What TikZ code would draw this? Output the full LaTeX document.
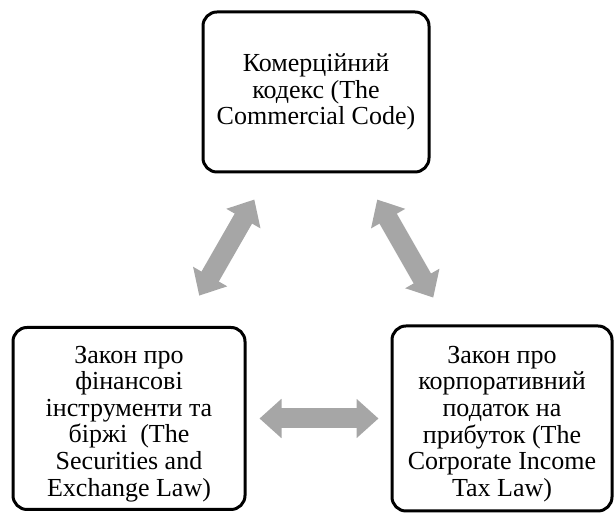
\documentclass[tikz,border=0pt]{standalone}
\usepackage{fontspec}
\setmainfont{Liberation Serif}
\usetikzlibrary{arrows.meta}

\newcommand{\topgap}{\rule{0pt}{28pt}}

\begin{document}
\begin{tikzpicture}
    [node distance =1cm,
    lawbox/.style={draw=black, line width=3pt, rounded corners=14pt, align=center,
        inner sep=4pt, font=\fontsize{26}{26.6}\selectfont},
    link/.style={draw=linkgray, line width=20pt,
        {Triangle[length=22pt 0 0, width=38pt 0 0]}-{Triangle[length=22pt 0 0, width=38pt 0 0]}}]
        \definecolor{linkgray}{HTML}{A6A6A6}
        \useasboundingbox (0,0) rectangle (614pt,513pt);
        %% Codes
        \node[lawbox, minimum width=226pt, minimum height=160pt] (comm) at (316pt,421pt)
            {Комерційний\\кодекс (The\\Commercial Code)};
        \coordinate[below of = comm, node distance=326.5pt] (mid);
        \node[lawbox, left of = mid, node distance=187pt, minimum width=232pt, minimum height=182pt] (secur)
            {\topgap Закон про\\фінансові\\інструменти та\\біржі\ \ (The\\Securities and\\Exchange Law)};
        \node[lawbox, right of = mid, node distance=186pt, minimum width=220pt, minimum height=185pt] (tax)
            {\topgap Закон про\\корпоративний\\податок на\\прибуток (The\\Corporate Income\\Tax Law)};
        
        \draw[link, shorten <=30pt, shorten >=35pt] (comm) to (secur);
        \draw[link, shorten <=30pt, shorten >=31pt] (comm) to (tax);
        \draw[link, shorten <=13pt, shorten >=12pt] (secur) to (tax);
    \end{tikzpicture}
\end{document}
